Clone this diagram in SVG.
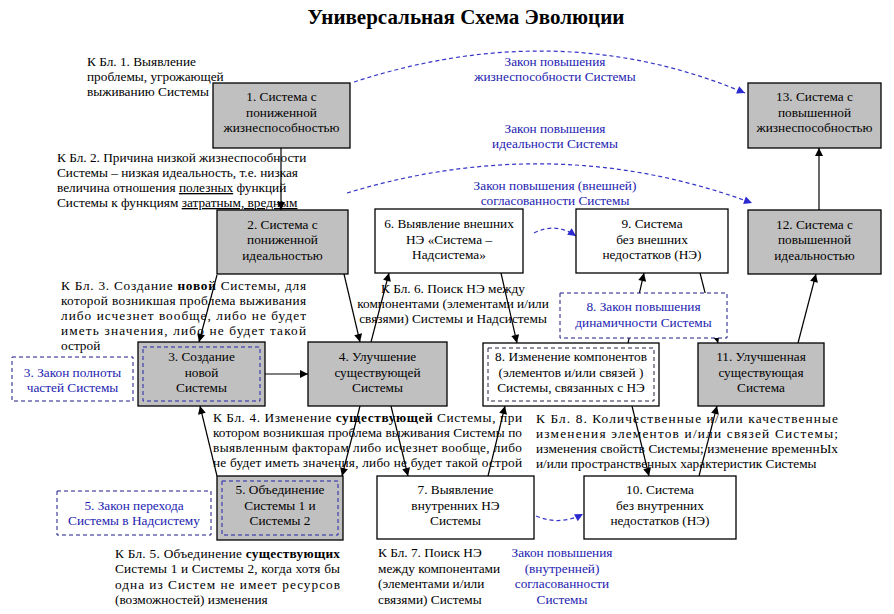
<svg xmlns="http://www.w3.org/2000/svg" width="894" height="614" viewBox="0 0 894 614" font-family="'Liberation Serif', 'DejaVu Serif', 'Times New Roman', serif">
<style>
text{font-family:'Liberation Serif','DejaVu Serif','Times New Roman',serif;font-size:13.3px;fill:#000}
.c{text-anchor:middle}
.t{font-size:21px;font-weight:bold}
.law{fill:#1c1cb0}
.g{fill:#c0c0c0;stroke:#000;stroke-width:1.3}
.w{fill:#fff;stroke:#000;stroke-width:1.3}
.ib{fill:none;stroke:#2222aa;stroke-width:1;stroke-dasharray:4 3}
.ik{fill:none;stroke:#222244;stroke-width:1;stroke-dasharray:4 3}
.lb{fill:#fff;stroke:#1a1a88;stroke-width:1;stroke-dasharray:4 3}
.a{stroke:#000;stroke-width:1.2;fill:none;marker-end:url(#ah)}
.d{stroke:#3535c8;stroke-width:1.2;fill:none;stroke-dasharray:4 3;marker-end:url(#bh)}
.b{font-weight:bold}
.u{text-decoration:underline}
</style>
<defs>
<marker id="ah" viewBox="0 0 10 10" refX="10" refY="5" markerWidth="9" markerHeight="8" markerUnits="userSpaceOnUse" orient="auto"><path d="M0,0L10,5L0,10z" fill="#000"/></marker>
<marker id="bh" viewBox="0 0 10 10" refX="10" refY="5" markerWidth="9" markerHeight="8" markerUnits="userSpaceOnUse" orient="auto"><path d="M0,0L10,5L0,10z" fill="#2a2ad0"/></marker>
</defs>
<rect width="894" height="614" fill="#fff"/>
<text class="t c" x="466" y="24">Универсальная Схема Эволюции</text>

<g id="connectors">
<line class="a" x1="281" y1="148" x2="281" y2="210"/>
<line class="a" x1="217" y1="275" x2="199" y2="342"/>
<line class="a" x1="344" y1="274" x2="360" y2="342"/>
<line class="a" x1="265" y1="374" x2="308" y2="374"/>
<line class="a" x1="371" y1="342" x2="389" y2="273"/>
<line class="a" x1="501" y1="273" x2="517" y2="343"/>
<line class="a" x1="628" y1="343" x2="644" y2="273"/>
<line class="a" x1="700" y1="273" x2="718" y2="343"/>
<line class="a" x1="798" y1="343" x2="816" y2="274"/>
<line class="a" x1="819" y1="210" x2="819" y2="148"/>
<line class="a" x1="391" y1="406" x2="408" y2="476"/>
<line class="a" x1="360" y1="406" x2="342" y2="476"/>
<line class="a" x1="217" y1="476" x2="200" y2="406"/>
<line class="a" x1="488" y1="476" x2="505" y2="406"/>
<line class="a" x1="632" y1="406" x2="649" y2="476"/>
<line class="a" x1="699" y1="476" x2="717" y2="406"/>
<path class="d" d="M354,82 Q560,15 745,93"/>
<path class="d" d="M347,193 Q555,130 752,203"/>
<path class="d" d="M534,233 Q556,222 576,236"/>
<path class="d" d="M536,516 Q560,526 583,514"/>
</g>

<g id="n1"><rect class="g" x="213" y="83" width="137" height="65"/>
<text class="c" x="281.5" y="101">1. Система с</text><text class="c" x="281.5" y="117">пониженной</text><text class="c" x="281.5" y="132">жизнеспособностью</text></g>
<g id="n2"><rect class="g" x="217" y="210" width="131" height="64"/>
<text class="c" x="282.5" y="229">2. Система с</text><text class="c" x="282.5" y="244">пониженной</text><text class="c" x="282.5" y="260">идеальностью</text></g>
<g id="n3"><rect class="g" x="138" y="342" width="127" height="64"/><rect class="ib" x="143" y="347" width="117" height="54"/>
<text class="c" x="201.5" y="361">3. Создание</text><text class="c" x="201.5" y="377">новой</text><text class="c" x="201.5" y="392">Системы</text></g>
<g id="n4"><rect class="g" x="308" y="342" width="139" height="64"/>
<text class="c" x="377.5" y="361">4. Улучшение</text><text class="c" x="377.5" y="377">существующей</text><text class="c" x="377.5" y="392">Системы</text></g>
<g id="n5"><rect class="g" x="217" y="476" width="126" height="64"/><rect class="ib" x="222" y="481" width="116" height="54"/>
<text class="c" x="280" y="494">5. Объединение</text><text class="c" x="280" y="510">Системы 1 и</text><text class="c" x="280" y="525">Системы 2</text></g>
<g id="n6"><rect class="w" x="375" y="209" width="148" height="64"/>
<text class="c" x="449" y="228">6. Выявление внешних</text><text class="c" x="449" y="244">НЭ «Система –</text><text class="c" x="449" y="259">Надсистема»</text></g>
<g id="n7"><rect class="w" x="377" y="476" width="157" height="63"/>
<text class="c" x="455.5" y="494">7. Выявление</text><text class="c" x="455.5" y="510">внутренних  НЭ</text><text class="c" x="455.5" y="525">Системы</text></g>
<g id="n8"><rect class="w" x="483" y="343" width="176" height="63"/><rect class="ik" x="488" y="348" width="166" height="53"/>
<text class="c" x="571" y="361">8. Изменение компонентов</text><text class="c" x="571" y="377">(элементов и/или связей )</text><text class="c" x="571" y="392">Системы, связанных с НЭ</text></g>
<g id="n9"><rect class="w" x="576" y="209" width="152" height="64"/>
<text class="c" x="652" y="228">9. Система</text><text class="c" x="652" y="244">без внешних</text><text class="c" x="652" y="259">недостатков (НЭ)</text></g>
<g id="n10"><rect class="w" x="584" y="476" width="152" height="63"/>
<text class="c" x="660" y="494">10. Система</text><text class="c" x="660" y="510">без внутренних</text><text class="c" x="660" y="525">недостатков (НЭ)</text></g>
<g id="n11"><rect class="g" x="698" y="343" width="126" height="63"/>
<text class="c" x="761" y="361">11. Улучшенная</text><text class="c" x="761" y="377">существующая</text><text class="c" x="761" y="392">Система</text></g>
<g id="n12"><rect class="g" x="748" y="210" width="133" height="64"/>
<text class="c" x="814.5" y="229">12. Система с</text><text class="c" x="814.5" y="244">повышенной</text><text class="c" x="814.5" y="260">идеальностью</text></g>
<g id="n13"><rect class="g" x="748" y="83" width="133" height="65"/>
<text class="c" x="814.5" y="101">13. Система с</text><text class="c" x="814.5" y="117">повышенной</text><text class="c" x="814.5" y="132">жизнеспособностью</text></g>

<g id="law3"><rect class="lb" x="12" y="357" width="121" height="44"/>
<text class="c law" x="72.5" y="377">3. Закон полноты</text><text class="c law" x="72.5" y="392">частей Системы</text></g>
<g id="law5"><rect class="lb" x="57" y="491" width="154" height="44"/>
<text class="c law" x="134" y="510">5. Закон перехода</text><text class="c law" x="134" y="525">Системы в Надсистему</text></g>
<g id="law8"><rect class="lb" x="560" y="293" width="167" height="45"/>
<text class="c law" x="643.5" y="311">8. Закон повышения</text><text class="c law" x="643.5" y="327">динамичности Системы</text></g>

<g id="labels">
<text class="c law" x="555" y="66">Закон повышения</text>
<text class="c law" x="555" y="81">жизнеспособности Системы</text>
<text class="c law" x="555" y="133">Закон повышения</text>
<text class="c law" x="555" y="148">идеальности Системы</text>
<text class="c law" x="555" y="190">Закон повышения (внешней)</text>
<text class="c law" x="555" y="205">согласованности Системы</text>
<text class="c law" x="562" y="557">Закон повышения</text>
<text class="c law" x="562" y="573">(внутренней)</text>
<text class="c law" x="562" y="588">согласованности</text>
<text class="c law" x="562" y="604">Системы</text>
</g>

<g id="notes">
<text x="87" y="66">К Бл. 1. Выявление</text>
<text x="87" y="81">проблемы, угрожающей</text>
<text x="87" y="96">выживанию Системы</text>

<text x="57" y="162">К Бл. 2. Причина низкой жизнеспособности</text>
<text x="57" y="177">Системы – низкая идеальность, т.е. низкая</text>
<text x="57" y="192">величина отношения <tspan class="u">полезных</tspan> функций</text>
<text x="57" y="207">Системы к функциям <tspan class="u">затратным, вредным</tspan></text>

<text x="61" y="290" textLength="245" lengthAdjust="spacing">К Бл. 3. Создание <tspan class="b">новой</tspan> Системы, для</text>
<text x="61" y="305" textLength="245" lengthAdjust="spacing">которой возникшая проблема выживания</text>
<text x="61" y="320" textLength="245" lengthAdjust="spacing">либо исчезнет вообще, либо не будет</text>
<text x="61" y="335" textLength="245" lengthAdjust="spacing">иметь значения, либо не будет такой</text>
<text x="61" y="350">острой</text>

<text x="213" y="422" textLength="309" lengthAdjust="spacing">К Бл. 4. Изменение <tspan class="b">существующей</tspan> Системы, при</text>
<text x="213" y="437" textLength="309" lengthAdjust="spacing">котором возникшая проблема выживания Системы по</text>
<text x="213" y="452" textLength="309" lengthAdjust="spacing">выявленным факторам либо исчезнет вообще, либо</text>
<text x="213" y="467" textLength="309" lengthAdjust="spacing">не будет иметь значения, либо не будет такой  острой</text>

<text x="115" y="558" textLength="225" lengthAdjust="spacing">К Бл. 5. Объединение <tspan class="b">существующих</tspan></text>
<text x="115" y="573" textLength="225" lengthAdjust="spacing">Системы 1 и Системы 2, когда хотя бы</text>
<text x="115" y="589" textLength="225" lengthAdjust="spacing">одна из Систем не имеет ресурсов</text>
<text x="115" y="604">(возможностей) изменения</text>

<text class="c" x="453" y="293">К Бл. 6. Поиск НЭ между</text>
<text class="c" x="453" y="308">компонентами (элементами и/или</text>
<text class="c" x="453" y="323">связями) Системы и Надсистемы</text>

<text x="378" y="557">К Бл. 7. Поиск НЭ</text>
<text x="378" y="573">между компонентами</text>
<text x="378" y="588">(элементами и/или</text>
<text x="378" y="604">связями) Системы</text>

<text x="536" y="423" textLength="302" lengthAdjust="spacing">К Бл. 8. Количественные и/или качественные</text>
<text x="536" y="438" textLength="302" lengthAdjust="spacing">изменения элементов и/или связей Системы;</text>
<text x="536" y="453" textLength="302" lengthAdjust="spacing">изменения свойств Системы; изменение временнЫх</text>
<text x="536" y="468">и/или пространственных характеристик Системы</text>
</g>
</svg>
